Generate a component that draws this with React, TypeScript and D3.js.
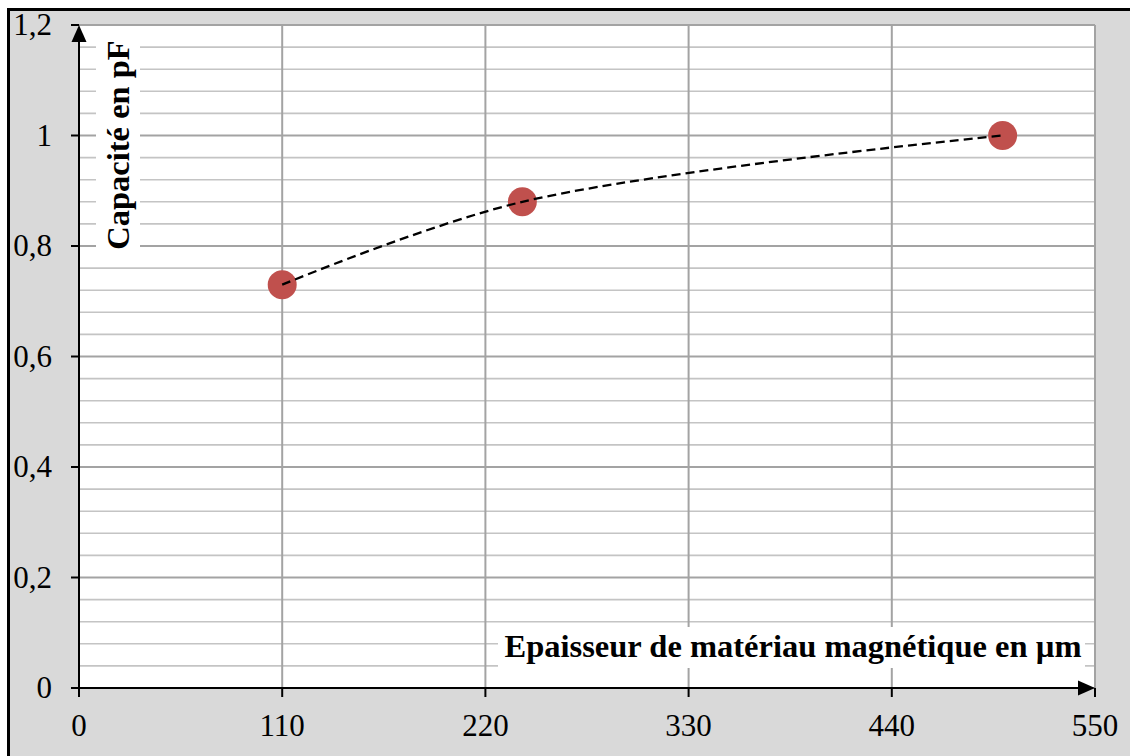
import React from "react";
import * as d3 from "d3";

const thickness = [110, 240, 500];
const capacitance = [0.73, 0.88, 1.0];
const xTicks = [0, 110, 220, 330, 440, 550];
const yTicks = [0, 0.2, 0.4, 0.6, 0.8, 1, 1.2];
const yTickLabels = ["0", "0,2", "0,4", "0,6", "0,8", "1", "1,2"];
const xTitle = "Epaisseur de matériau magnétique en µm";
const yTitle = "Capacité en pF";

const W = 1130;
const H = 756;
const left = 79;
const right = 1095;
const top = 25;
const bottom = 688;

export default function App() {
  const x = d3.scaleLinear().domain([0, 550]).range([left, right]);
  const y = d3.scaleLinear().domain([0, 1.2]).range([bottom, top]);
  const minor = d3.range(0, 31).map((i) => +(i * 0.04).toFixed(2));
  const minorTicks = minor.filter((v) => Math.round(v * 100) % 20 !== 0);
  const pts = thickness.map((t, i) => [t, capacitance[i]] as [number, number]);
  const line = d3
    .line<[number, number]>()
    .x((d) => x(d[0]))
    .y((d) => y(d[1]))
    .curve(d3.curveCatmullRom.alpha(0.5));
  const serif = "'Liberation Serif', 'Times New Roman', serif";
  return (
    <svg
      width={W}
      height={H}
      style={{ position: "fixed", left: 0, top: 0, display: "block" }}
    >
      <rect x={0} y={0} width={W} height={H} fill="#ffffff" />
      <rect x={8} y={9} width={W} height={H} fill="#d9d9d9" />
      <line x1={8.5} y1={8} x2={8.5} y2={H} stroke="#000" strokeWidth={3} />
      <line x1={7} y1={9.5} x2={W} y2={9.5} stroke="#000" strokeWidth={3} />
      <rect x={left} y={top} width={right - left} height={bottom - top} fill="#ffffff" />
      {minorTicks.map((v) => (
        <line key={"mn" + v} x1={left} x2={right} y1={y(v)} y2={y(v)} stroke="#c4c4c4" strokeWidth={1.6} />
      ))}
      {yTicks.map((v) => (
        <line key={"mj" + v} x1={left} x2={right} y1={y(v)} y2={y(v)} stroke="#a3a3a3" strokeWidth={2} />
      ))}
      {xTicks.slice(1).map((v) => (
        <line key={"vx" + v} x1={x(v)} x2={x(v)} y1={top} y2={bottom} stroke="#a3a3a3" strokeWidth={2} />
      ))}
      {/* title boxes */}
      <rect x={96} y={38} width={44} height={214} fill="#ffffff" />
      <rect x={498} y={627} width={587} height={41} fill="#ffffff" />
      {/* axes */}
      <line x1={left} x2={left} y1={bottom} y2={top + 10} stroke="#000" strokeWidth={2} />
      <line x1={71} x2={right - 10} y1={bottom} y2={bottom} stroke="#000" strokeWidth={2} />
      <polygon points={`${left},${top} ${left - 7.5},${top + 17} ${left + 7.5},${top + 17}`} fill="#000" />
      <polygon points={`${right},${bottom} ${right - 17},${bottom - 7.5} ${right - 17},${bottom + 7.5}`} fill="#000" />
      {yTicks.map((v) => (
        <line key={"yt" + v} x1={71} x2={left} y1={y(v)} y2={y(v)} stroke="#000" strokeWidth={2} />
      ))}
      {xTicks.map((v) => (
        <line key={"xt" + v} x1={x(v)} x2={x(v)} y1={bottom} y2={bottom + 9} stroke="#000" strokeWidth={2} />
      ))}
      {yTicks.map((v, i) => (
        <text key={"yl" + v} x={52} y={y(v) + 10} textAnchor="end" fontFamily={serif} fontSize={31} fill="#000">
          {yTickLabels[i]}
        </text>
      ))}
      {xTicks.map((v) => (
        <text key={"xl" + v} x={x(v)} y={736} textAnchor="middle" fontFamily={serif} fontSize={31} fill="#000">
          {String(v)}
        </text>
      ))}
      {/* data */}
      {pts.map((p, i) => (
        <circle key={"pt" + i} cx={x(p[0])} cy={y(p[1])} r={14.5} fill="#c0504d" />
      ))}
      <path d={line(pts) || ""} fill="none" stroke="#000" strokeWidth={2.3} strokeDasharray="9,5" />
      {/* titles */}
      <text
        x={0}
        y={0}
        transform={`translate(129,145) rotate(-90)`}
        textAnchor="middle"
        fontFamily={serif}
        fontWeight="bold"
        fontSize={32.5}
        fill="#000"
      >
        {yTitle}
      </text>
      <text x={793} y={657} textAnchor="middle" fontFamily={serif} fontWeight="bold" fontSize={32.5} fill="#000">
        {xTitle}
      </text>
    </svg>
  );
}
